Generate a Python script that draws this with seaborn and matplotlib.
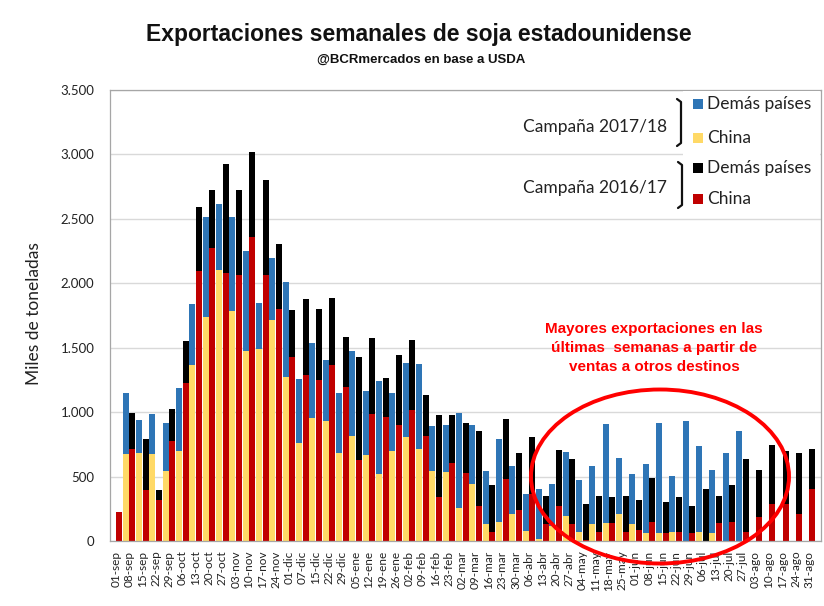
import numpy as np
import pandas as pd
import matplotlib
matplotlib.use("Agg")
import matplotlib.pyplot as plt
import seaborn as sns
from matplotlib.patches import Rectangle, Ellipse
from matplotlib.lines import Line2D
from matplotlib.ticker import FuncFormatter

weeks = ['01-sep', '08-sep', '15-sep', '22-sep', '29-sep', '06-oct', '13-oct', '20-oct', '27-oct',
         '03-nov', '10-nov', '17-nov', '24-nov', '01-dic', '07-dic', '15-dic', '22-dic', '29-dic',
         '05-ene', '12-ene', '19-ene', '26-ene', '02-feb', '09-feb', '16-feb', '23-feb', '02-mar',
         '09-mar', '16-mar', '23-mar', '30-mar', '06-abr', '13-abr', '20-abr', '27-abr', '04-may',
         '11-may', '18-may', '25-may', '01-jun', '08-jun', '15-jun', '22-jun', '29-jun', '06-jul',
         '13-jul', '20-jul', '27-jul', '03-ago', '10-ago', '17-ago', '24-ago', '31-ago']

# Campaña 2016/17 (miles de toneladas)
china_1617 = [227, 711, 394, 317, 776, 1224, 2095, 2270, 2082, 2062, 2358, 2062, 1801, 1425, 1291,
              1250, 1368, 1193, 626, 987, 961, 897, 1013, 812, 338, 608, 531, 271, 72, 479, 240,
              363, 131, 271, 131, 5, 72, 142, 72, 85, 144, 64, 72, 64, 0, 137, 144, 72, 183, 286,
              286, 206, 402]
total_1617 = [227, 995, 791, 399, 1026, 1554, 2590, 2724, 2927, 2724, 3015, 2801, 2306, 1791, 1881,
              1804, 1884, 1587, 1430, 1572, 1263, 1446, 1559, 1136, 974, 979, 915, 850, 433, 948,
              685, 807, 350, 709, 634, 291, 348, 338, 348, 322, 490, 299, 338, 273, 402, 350, 433,
              634, 549, 742, 696, 685, 711]

# Campaña 2017/18 (miles de toneladas)
china_1718 = [678, 685, 675, 544, 698, 1368, 1737, 2100, 1786, 1474, 1489, 1714, 1270, 763, 956,
              928, 683, 817, 665, 518, 696, 804, 714, 544, 536, 255, 446, 131, 144, 209, 80, 15,
              116, 193, 72, 129, 137, 209, 131, 64, 59, 72, 0, 72, 59, 0, 0]
total_1718 = [1149, 941, 982, 917, 1188, 1843, 2518, 2618, 2513, 2250, 1845, 2193, 2013, 1258, 1536,
              1407, 1147, 1477, 1162, 1240, 1147, 1379, 1371, 892, 897, 995, 897, 544, 789, 580,
              368, 405, 441, 693, 477, 582, 910, 644, 518, 595, 915, 503, 930, 737, 549, 683, 853]

campaigns = ['2016/17', '2017/18']
yticks = [0, 500, 1000, 1500, 2000, 2500, 3000, 3500]

rows = []
for i, w in enumerate(weeks):
    rows.append(dict(week=w, campaign='2016/17', china=china_1617[i], total=total_1617[i]))
    if i < len(total_1718):
        rows.append(dict(week=w, campaign='2017/18', china=china_1718[i], total=total_1718[i]))
df = pd.DataFrame(rows)

sns.set_theme(style="white")
plt.rcParams['font.family'] = ['Lato', 'DejaVu Sans']
NARROW = ['Liberation Sans Narrow', 'Liberation Sans', 'DejaVu Sans']

W, H = 824, 606
fig = plt.figure(figsize=(W / 100, H / 100), dpi=100)
fig.patch.set_facecolor('white')

def fx(px):
    return px / W

def fy(py):
    return 1 - py / H

ax = fig.add_axes([fx(109.7), fy(541), (821 - 109.7) / W, (541 - 90) / H])

sns.barplot(data=df, x='week', y='total', hue='campaign', order=weeks, hue_order=campaigns,
            palette={'2016/17': '#000000', '2017/18': '#2E75B6'}, width=1.0, gap=0.1,
            saturation=1, errorbar=None, legend=False, linewidth=0, ax=ax)
sns.barplot(data=df, x='week', y='china', hue='campaign', order=weeks, hue_order=campaigns,
            palette={'2016/17': '#C00000', '2017/18': '#FFD966'}, width=1.0, gap=0.1,
            saturation=1, errorbar=None, legend=False, linewidth=0, ax=ax)

ax.set_xlim(-0.95, 52.41)
ax.set_ylim(0, 3500)
ax.set_yticks(yticks)
ax.yaxis.set_major_formatter(FuncFormatter(lambda v, p: f"{v:,.0f}".replace(",", ".")))
ax.set_xticks(np.arange(len(weeks)) - 0.5)
ax.set_xticklabels(weeks, rotation=90, fontsize=8.5, color='#222222')
ax.tick_params(axis='x', length=0, pad=7)
ax.tick_params(axis='y', length=0, pad=11, labelsize=9.5, labelcolor='#222222')
ax.set_xlabel('')
ax.set_ylabel('Miles de toneladas', fontsize=12.5, color='#222222')
ax.yaxis.set_label_coords(-0.095, 0.505)
ax.grid(axis='y', color='#D9D9D9', linewidth=1)
ax.set_axisbelow(True)
for s in ax.spines.values():
    s.set_color('#A6A6A6')
    s.set_linewidth(0.9)

# Title
fig.text(fx(419), fy(35), 'Exportaciones semanales de soja estadounidense', ha='center', va='center',
         fontsize=16.5, fontweight='bold', family=NARROW, color='#111111')
fig.text(fx(421), fy(60), '@BCRmercados en base a USDA', ha='center', va='center',
         fontsize=9.5, fontweight='bold', family=NARROW, color='#111111')

# Legend box
fig.add_artist(Rectangle((fx(683), fy(212)), (820 - 683) / W, (212 - 91) / H,
                         transform=fig.transFigure, facecolor='white', edgecolor='none', zorder=2))
legend_items = [('#2E75B6', 'Demás países', 104), ('#FFD966', 'China', 138),
                ('#000000', 'Demás países', 168), ('#C00000', 'China', 199)]
for col, lab, yc in legend_items:
    fig.add_artist(Rectangle((fx(693), fy(yc + 5)), 10 / W, 10 / H, transform=fig.transFigure,
                             facecolor=col, edgecolor='none', zorder=3))
    fig.text(fx(707), fy(yc), lab, ha='left', va='center', fontsize=12.5, color='#222222', zorder=3)

fig.text(fx(667), fy(127), 'Campaña 2017/18', ha='right', va='center', fontsize=12.5, color='#222222')
fig.text(fx(667), fy(188), 'Campaña 2016/17', ha='right', va='center', fontsize=12.5, color='#222222')
for (x0, y0, y1) in [(681, 99, 146), (682, 162, 208)]:
    fig.add_artist(Line2D([fx(x0 - 4), fx(x0), fx(x0), fx(x0 - 4)], [fy(y0), fy(y0 + 3), fy(y1 - 3), fy(y1)],
                          transform=fig.transFigure, color='#111111', linewidth=1.6, zorder=3))

# Annotation
fig.text(fx(654), fy(348), 'Mayores exportaciones en las\núltimas  semanas a partir de\nventas a otros destinos',
         ha='center', va='center', fontsize=11, fontweight='bold', family=NARROW, color='#FF0000',
         linespacing=1.45, zorder=4)
fig.add_artist(Ellipse((fx(660), fy(476.5)), 258 / W, 174 / H, transform=fig.transFigure,
                       facecolor='none', edgecolor='#FF0000', linewidth=2.8, zorder=5))

fig.savefig('out.png', dpi=100, facecolor='white')
